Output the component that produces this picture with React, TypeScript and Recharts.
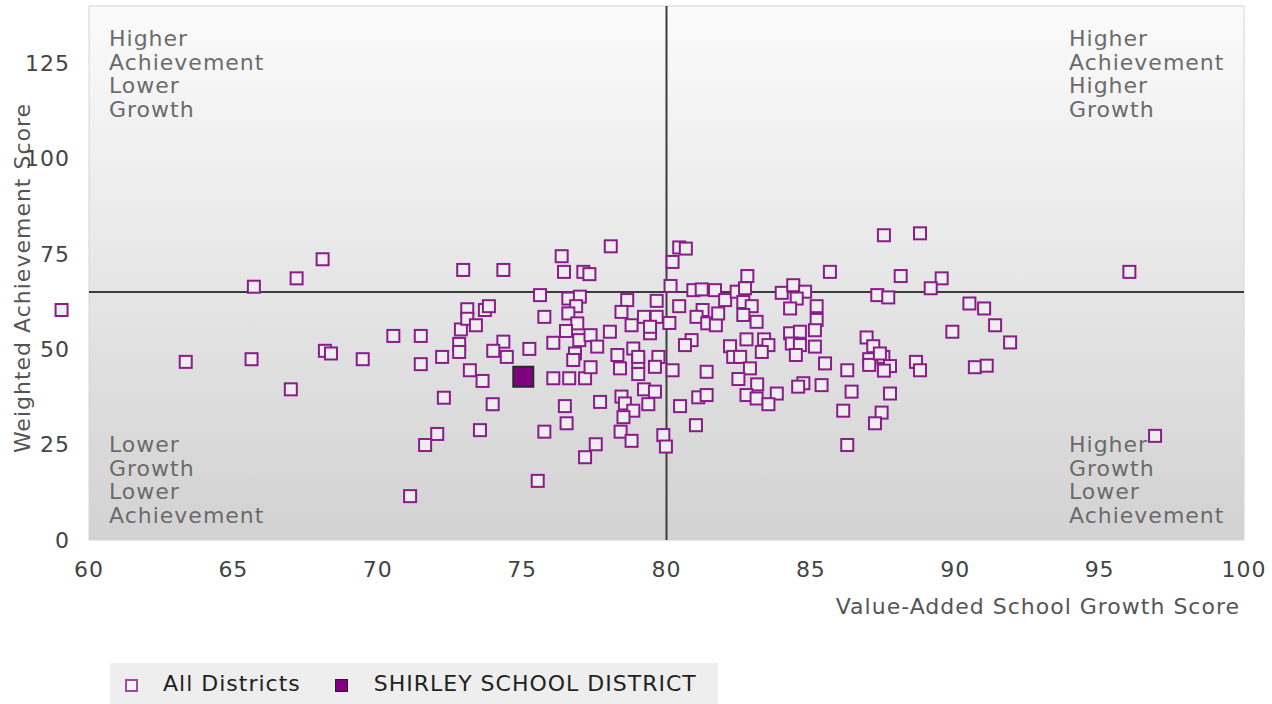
import {
  CartesianGrid,
  ReferenceArea,
  ReferenceDot,
  ReferenceLine,
  Scatter,
  ScatterChart,
  XAxis,
  YAxis,
} from "recharts";

const X_TICKS = [60, 65, 70, 75, 80, 85, 90, 95, 100];
const Y_TICKS = [0, 25, 50, 75, 100, 125];

const GROWTH_CUTOFF = 80;
const ACHIEVEMENT_CUTOFF = 65;

// [growth score, achievement score]
const ALL_DISTRICTS: [number, number][] = [
  [59.05, 60.3], [63.35, 46.7], [65.63, 47.4], [65.71, 66.4], [66.99, 39.5],
  [67.19, 68.6], [68.09, 73.6], [68.17, 49.6], [68.38, 48.9], [69.48, 47.4],
  [70.54, 53.5], [71.49, 53.5], [71.49, 46.1], [72.23, 48.0], [72.29, 37.3],
  [72.06, 27.8], [71.64, 24.9], [71.12, 11.5], [72.96, 70.8], [74.35, 70.8],
  [72.82, 51.4], [72.82, 49.3], [72.88, 55.2], [73.1, 60.5], [73.1, 58.0],
  [73.4, 56.3], [73.71, 60.3], [73.85, 61.3], [73.19, 44.5], [73.63, 41.7],
  [73.98, 35.6], [73.54, 28.8], [74.35, 52.0], [74.0, 49.6], [74.47, 48.0],
  [75.25, 50.1], [75.62, 64.2], [75.77, 58.5], [76.08, 51.7], [76.08, 42.4],
  [75.77, 28.4], [75.54, 15.5], [76.37, 74.4], [76.45, 70.3], [77.12, 70.3],
  [77.33, 69.7], [78.07, 77.0], [76.6, 63.3], [77.0, 63.8], [76.87, 61.3],
  [76.6, 59.4], [76.91, 56.8], [76.52, 54.8], [76.98, 52.4], [77.37, 53.7],
  [78.04, 54.6], [77.6, 50.7], [76.83, 48.9], [76.77, 47.2], [76.63, 42.4],
  [77.18, 42.4], [77.37, 45.3], [77.7, 36.2], [76.48, 35.1], [76.54, 30.6],
  [77.55, 25.1], [77.18, 21.7], [78.64, 62.9], [78.44, 59.8], [78.79, 56.3],
  [79.22, 58.5], [79.66, 62.7], [79.66, 58.5], [79.43, 54.2], [78.85, 50.2],
  [78.3, 48.5], [78.39, 45.0], [79.02, 46.7], [79.02, 43.5], [79.72, 48.0],
  [79.6, 45.4], [79.22, 39.5], [79.6, 38.9], [78.44, 37.6], [78.56, 35.8],
  [78.85, 33.9], [79.37, 35.6], [78.51, 32.2], [78.41, 28.4], [78.79, 26.0],
  [79.89, 27.5], [79.98, 24.5], [80.14, 66.6], [80.21, 72.9], [80.44, 76.7],
  [80.67, 76.4], [80.93, 65.5], [81.22, 65.7], [81.68, 65.5], [80.44, 61.3],
  [81.25, 60.3], [81.04, 58.5], [81.41, 56.8], [81.71, 56.3], [80.1, 56.9],
  [80.87, 52.4], [80.64, 51.1], [80.21, 44.5], [81.39, 44.1], [81.1, 37.4],
  [81.39, 38.0], [80.47, 35.1], [81.02, 30.1], [81.79, 59.4], [82.03, 62.9],
  [82.43, 65.1], [82.8, 69.2], [82.72, 66.0], [82.66, 62.4], [82.95, 61.3],
  [82.66, 59.0], [83.12, 57.2], [82.2, 50.8], [82.77, 52.6], [83.38, 52.6],
  [83.53, 51.1], [83.3, 49.3], [82.31, 48.0], [82.55, 48.0], [82.89, 45.0],
  [82.49, 42.2], [83.14, 40.8], [83.82, 38.4], [82.77, 38.0], [83.12, 37.1],
  [83.53, 35.6], [83.99, 64.8], [84.39, 66.8], [84.8, 65.1], [84.51, 63.3],
  [84.28, 60.7], [85.2, 61.3], [85.2, 57.7], [85.14, 55.0], [84.28, 54.2],
  [84.62, 54.6], [84.34, 51.5], [84.62, 51.1], [84.48, 48.5], [85.14, 50.7],
  [85.49, 46.3], [84.74, 41.1], [84.56, 40.2], [85.37, 40.6], [85.66, 70.3],
  [87.53, 79.9], [88.78, 80.4], [88.11, 69.2], [89.53, 68.6], [89.15, 66.0],
  [87.3, 64.2], [87.68, 63.6], [90.49, 62.0], [91.0, 60.7], [91.38, 56.3],
  [91.9, 51.8], [89.9, 54.6], [86.93, 53.1], [87.16, 50.8], [87.02, 47.4],
  [87.02, 45.9], [87.51, 48.0], [87.74, 45.6], [87.53, 44.4], [87.39, 48.9],
  [88.64, 46.7], [88.78, 44.5], [90.68, 45.3], [91.09, 45.7], [86.26, 44.5],
  [86.41, 38.9], [87.74, 38.4], [86.12, 33.9], [87.45, 33.4], [87.22, 30.6],
  [86.26, 24.9], [96.03, 70.3], [96.92, 27.3], [79.02, 48.0], [79.43, 55.9],
];

const SHIRLEY: [number, number][] = [[75.04, 42.8]];

const SERIES_NAMES = ["All Districts", "SHIRLEY SCHOOL DISTRICT"];

const QUADRANTS = [
  { x: 60, y: 140, side: "top-left", lines: ["Higher", "Achievement", "Lower", "Growth"] },
  { x: 100, y: 140, side: "top-right", lines: ["Higher", "Achievement", "Higher", "Growth"] },
  { x: 60, y: 0, side: "bottom-left", lines: ["Lower", "Growth", "Lower", "Achievement"] },
  { x: 100, y: 0, side: "bottom-right", lines: ["Higher", "Growth", "Lower", "Achievement"] },
];

const FONT = "'DejaVu Sans', Verdana, sans-serif";
const PURPLE = "#8b1c8b";
const SPACING = 1;

const toPoints = (rows: [number, number][]) =>
  rows.map(([growth, achievement]) => ({ growth, achievement }));

function HollowSquare(props: any) {
  const { cx, cy } = props;
  return (
    <rect
      x={cx - 6}
      y={cy - 6}
      width={12}
      height={12}
      fill="#eeeeee"
      stroke={PURPLE}
      strokeWidth={2}
    />
  );
}

function FilledSquare(props: any) {
  const { cx, cy } = props;
  return (
    <rect
      x={cx - 10}
      y={cy - 10}
      width={20}
      height={20}
      fill="#800080"
      stroke="#2a2a2a"
      strokeWidth={2}
    />
  );
}

function QuadrantText({ viewBox, side, lines }: any) {
  if (!viewBox) return null;
  const right = side.endsWith("right");
  const bottom = side.startsWith("bottom");
  const x = right ? viewBox.x - 175 : viewBox.x + 20;
  const y = bottom ? viewBox.y - 88 : viewBox.y + 40;
  return (
    <text x={x} y={y} fill="#6b6b6b" fontSize={22} fontFamily={FONT} letterSpacing={SPACING}>
      {lines.map((l: string, i: number) => (
        <tspan key={i} x={x} dy={i === 0 ? 0 : 23.5}>
          {l}
        </tspan>
      ))}
    </text>
  );
}

function Legend() {
  return (
    <div
      style={{
        position: "absolute",
        left: 110,
        top: 663,
        width: 608,
        height: 41,
        background: "#eeeeee",
        display: "flex",
        alignItems: "center",
        fontFamily: FONT,
        fontSize: 22,
        letterSpacing: SPACING,
        color: "#222",
        whiteSpace: "nowrap",
      }}
    >
      <span
        style={{
          display: "inline-block",
          width: 9,
          height: 9,
          border: "2px solid #a24aa2",
          background: "#f4f4f4",
          marginLeft: 15,
          marginRight: 25,
          marginTop: 4,
        }}
      />
      <span>{SERIES_NAMES[0]}</span>
      <span
        style={{
          display: "inline-block",
          width: 11,
          height: 11,
          border: "1px solid #222",
          background: "#800080",
          marginLeft: 34,
          marginRight: 26,
          marginTop: 4,
        }}
      />
      <span>{SERIES_NAMES[1]}</span>
    </div>
  );
}

export default function App() {
  return (
    <div style={{ position: "absolute", left: 0, top: 0, width: 1272, height: 704, background: "#fff" }}>
      <style>{`.recharts-scatter{clip-path:none}`}</style>
      <ScatterChart
        width={1272}
        height={704}
        margin={{ top: 6, right: 28, bottom: 0, left: 0 }}
        style={{ fontFamily: FONT }}
      >
        <defs>
          <linearGradient id="plotBg" x1="0" y1="0" x2="0" y2="1">
            <stop offset="0%" stopColor="#fbfbfb" />
            <stop offset="100%" stopColor="#d2d2d2" />
          </linearGradient>
        </defs>
        <CartesianGrid horizontal={false} vertical={false} fill="url(#plotBg)" fillOpacity={1} />
        <ReferenceArea
          x1={60}
          x2={100}
          y1={0}
          y2={140}
          fill="none"
          stroke="#d4d4d4"
          strokeWidth={1}
        />
        <XAxis
          type="number"
          dataKey="growth"
          domain={[60, 100]}
          allowDataOverflow
          ticks={X_TICKS}
          height={164}
          axisLine={false}
          tickLine={false}
          tickSize={0}
          tickMargin={21}
          tick={{ fill: "#444", fontSize: 22, fontFamily: FONT, letterSpacing: SPACING }}
          label={(p: any) => (
            <text
              x={p.viewBox.x + p.viewBox.width - 4}
              y={p.viewBox.y + 74}
              textAnchor="end"
              fill="#555"
              fontSize={22}
              fontFamily={FONT}
              letterSpacing={SPACING}
            >
              Value-Added School Growth Score
            </text>
          )}
        />
        <YAxis
          type="number"
          dataKey="achievement"
          domain={[0, 140]}
          allowDataOverflow
          ticks={Y_TICKS}
          width={89}
          axisLine={false}
          tickLine={false}
          tickSize={0}
          tickMargin={19}
          tick={{ fill: "#444", fontSize: 22, fontFamily: FONT, letterSpacing: SPACING }}
          label={(p: any) => {
            const cx = p.viewBox.x + 22;
            const cy = p.viewBox.y + p.viewBox.height / 2 + 5;
            return (
              <text
                x={cx}
                y={cy}
                transform={`rotate(-90, ${cx}, ${cy})`}
                textAnchor="middle"
                dominantBaseline="central"
                fill="#555"
                fontSize={22}
                fontFamily={FONT}
                letterSpacing={SPACING}
              >
                Weighted Achievement Score
              </text>
            );
          }}
        />
        <ReferenceLine x={GROWTH_CUTOFF} stroke="#3c3c3c" strokeWidth={2} />
        <ReferenceLine y={ACHIEVEMENT_CUTOFF} stroke="#3c3c3c" strokeWidth={2} />
        {QUADRANTS.map((q) => (
          <ReferenceDot
            key={q.side}
            x={q.x}
            y={q.y}
            r={0}
            stroke="none"
            fill="none"
            label={(p: any) => <QuadrantText {...p} side={q.side} lines={q.lines} />}
          />
        ))}
        <Scatter
          name={SERIES_NAMES[0]}
          data={toPoints(ALL_DISTRICTS)}
          shape={HollowSquare}
          isAnimationActive={false}
        />
        <Scatter
          name={SERIES_NAMES[1]}
          data={toPoints(SHIRLEY)}
          shape={FilledSquare}
          isAnimationActive={false}
        />
      </ScatterChart>
      <Legend />
    </div>
  );
}
